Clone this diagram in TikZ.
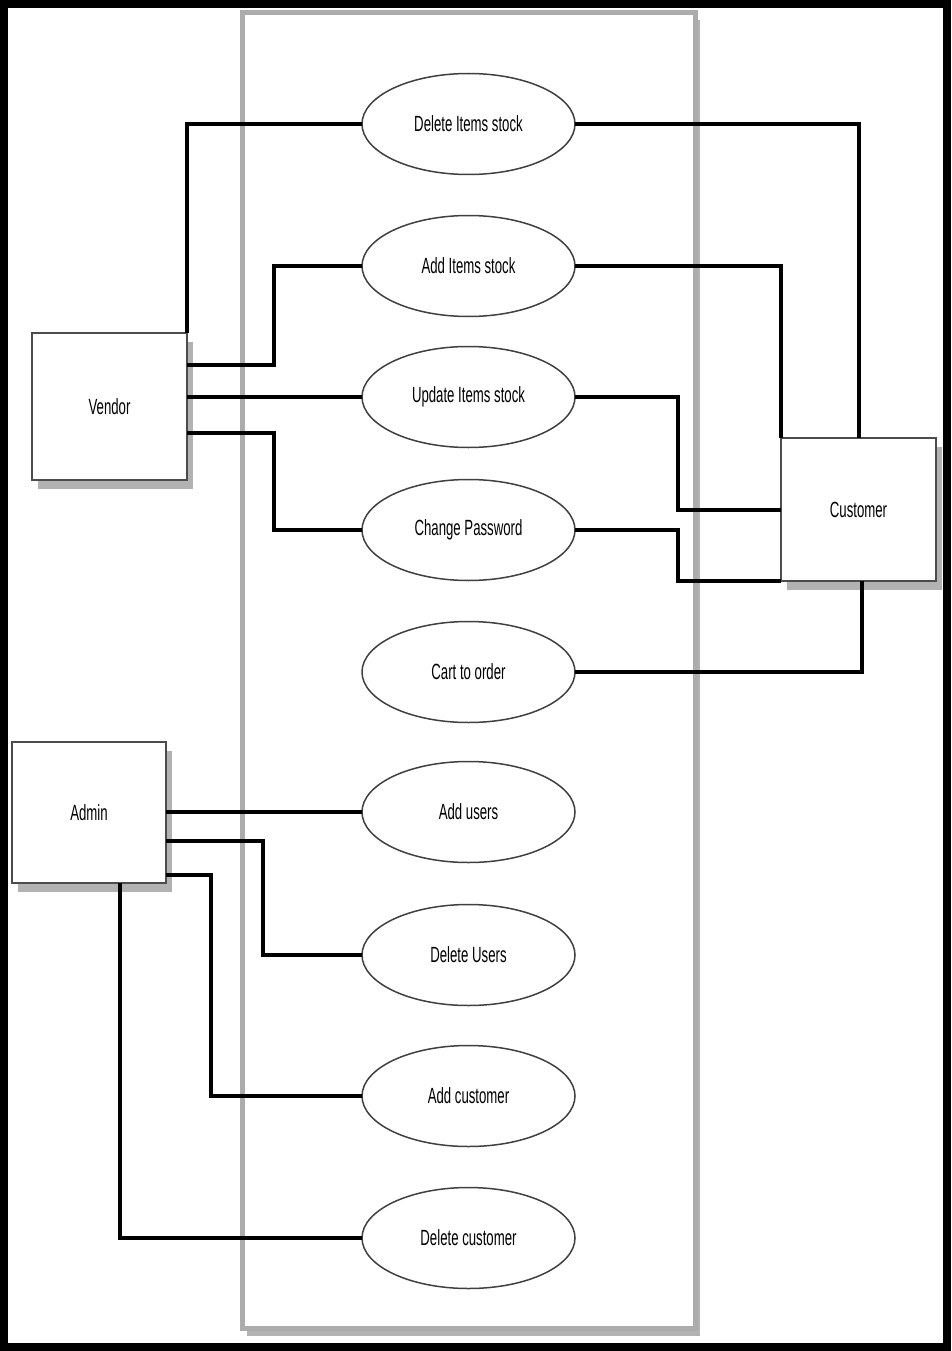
\documentclass[tikz,border=0pt]{standalone}
\usepackage{fontspec}
\setmainfont{Liberation Sans}[FakeStretch=0.6]
\usetikzlibrary{shapes.geometric,shadows}

\begin{document}
\begin{tikzpicture}[x=1pt,y=-1pt,
  labelfont/.style={font=\fontsize{22}{24}\selectfont},
  usecase/.style={ellipse, draw=black!75, line width=1.5pt, fill=white,
    minimum width=213pt, minimum height=101pt, inner sep=0pt, outer sep=0pt, labelfont},
  actor/.style={rectangle, draw=black!70, line width=1.5pt, fill=white,
    minimum width=155pt, minimum height=145pt, inner sep=0pt, outer sep=0pt, labelfont,
    drop shadow={shadow xshift=6pt, shadow yshift=-9pt, fill=gray!60, opacity=1}},
  conn/.style={line width=4pt, black, line join=miter},
  sysbox/.style={draw=gray!65, line width=5pt, fill=white,
    drop shadow={shadow xshift=5pt, shadow yshift=-8pt, fill=gray!60, opacity=1}},
  frame/.style={line width=8pt, black}]

\useasboundingbox (0,0) rectangle (951,1351);
\fill[white] (0,0) rectangle (951,1351);

% system boundary
\draw[sysbox] (242,12.5) rectangle (695,1328);

% use cases
\node[usecase] (d1) at (468.5,124)  {Delete Items stock};
\node[usecase] (a1) at (468.5,266)  {Add Items stock};
\node[usecase] (u1) at (468.5,397)  {Update Items stock};
\node[usecase] (cp) at (468.5,530)  {Change Password};
\node[usecase] (co) at (468.5,672)  {Cart to order};
\node[usecase] (au) at (468.5,812)  {Add users};
\node[usecase] (du) at (468.5,955)  {Delete Users};
\node[usecase] (ac) at (468.5,1096) {Add customer};
\node[usecase] (dc) at (468.5,1238) {Delete customer};

% actors
\node[actor, minimum height=147pt] (vendor) at (109.5,406.5) {Vendor};
\node[actor, minimum height=143pt] (customer) at (858.5,509.5) {Customer};
\node[actor, minimum width=154pt, minimum height=141pt] (admin) at (89,812.5) {Admin};

% vendor links
\draw[conn] (d1.west) -| (vendor.north east);
\draw[conn] (a1.west) -- ++(-88,0) |- ([yshift=41.5pt]vendor.east);
\draw[conn] (u1.west) -- (vendor.east |- u1.west);
\draw[conn] (cp.west) -- ++(-88,0) |- ([yshift=-26.5pt]vendor.east);

% customer links
\draw[conn] (d1.east) -| (customer.north);
\draw[conn] (a1.east) -| (customer.north west);
\draw[conn] (u1.east) -- ++(103,0) |- (customer.west);
\draw[conn] (cp.east) -- ++(103,0) |- (customer.south west);
\draw[conn] (co.east) -| ([xshift=3.5pt]customer.south);

% admin links
\draw[conn] (au.west) -- (admin.east |- au.west);
\draw[conn] (du.west) -- ++(-99,0) |- ([yshift=-28.5pt]admin.east);
\draw[conn] (ac.west) -- ++(-151,0) |- ([yshift=-62.5pt]admin.east);
\draw[conn] (dc.west) -| ([xshift=31pt]admin.south);

% outer frame
\draw[frame] (4,4) rectangle (947,1347);
\end{tikzpicture}
\end{document}
